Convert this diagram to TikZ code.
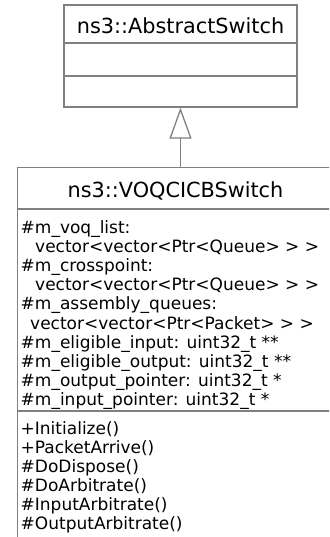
\documentclass[tikz,border=0pt]{standalone}
\usepackage{fontspec}
\setmainfont{DejaVu Sans}
\usetikzlibrary{arrows.meta}

\definecolor{umlline}{HTML}{808080}

\tikzset{
  umlbox/.style={draw=umlline, line width=1.3pt, inner sep=0pt, fill=white},
  divider/.style={draw=umlline, line width=1.3pt},
  classname/.style={inner sep=0pt, anchor=base, font=\fontsize{20.8}{24}\selectfont},
  member/.style={inner sep=0pt, anchor=base west, font=\fontsize{17}{19}\selectfont},
  inherit/.style={draw=umlline, line width=1.3pt,
    -{Triangle[open, length=31pt, width=22pt, line width=1.3pt]}}
}

\begin{document}
\begin{tikzpicture}[x=1pt, y=-1pt]
  \useasboundingbox (0,0) rectangle (329,537);
  \clip (0,0) rectangle (329,537);

  % base class
  \node[umlbox, minimum width=233pt, minimum height=102pt] (base) at (180.5,56) {};
  \draw[divider] (base.west |- 0,43) -- (base.east |- 0,43);
  \draw[divider] (base.west |- 0,76) -- (base.east |- 0,76);
  \node[classname] (basename) at (180.5,33.5) {ns3::AbstractSwitch};

  % derived class (continues past the page edge)
  \node[umlbox, minimum width=316.5pt, minimum height=392.5pt] (derived) at (175.75,363.75) {};
  \draw[divider] (derived.west |- 0,209) -- (derived.east |- 0,209);
  \draw[divider] (derived.west |- 0,411) -- (derived.east |- 0,411);
  \node[classname] (derivedname) at (175.5,197) {ns3::VOQCICBSwitch};

  % attributes
  \node[member] (a1) at (20.5,233) {\#m\_voq\_list:};
  \node[member] (a2) at (35,252.2) {vector<vector<Ptr<Queue> > >};
  \node[member] (a3) at (20.5,271.4) {\#m\_crosspoint:};
  \node[member] (a4) at (35,290.6) {vector<vector<Ptr<Queue> > >};
  \node[member] (a5) at (20.5,309.8) {\#m\_assembly\_queues:};
  \node[member] (a6) at (30,329) {vector<vector<Ptr<Packet> > >};
  \node[member] (a7) at (20.5,348.2) {\#m\_eligible\_input: uint32\_t **};
  \node[member] (a8) at (20.5,367.4) {\#m\_eligible\_output: uint32\_t **};
  \node[member] (a9) at (20.5,386.6) {\#m\_output\_pointer: uint32\_t *};
  \node[member] (a10) at (20.5,405.8) {\#m\_input\_pointer: uint32\_t *};

  % operations
  \node[member] (m1) at (20.5,434) {+Initialize()};
  \node[member] (m2) at (20.5,453) {+PacketArrive()};
  \node[member] (m3) at (20.5,472) {\#DoDispose()};
  \node[member] (m4) at (20.5,491) {\#DoArbitrate()};
  \node[member] (m5) at (20.5,510) {\#InputArbitrate()};
  \node[member] (m6) at (20.5,529) {\#OutputArbitrate()};

  % generalization
  \coordinate (inheritfoot) at (derived.north -| base.south);
  \draw[inherit] (inheritfoot) -- (base.south);
\end{tikzpicture}
\end{document}
